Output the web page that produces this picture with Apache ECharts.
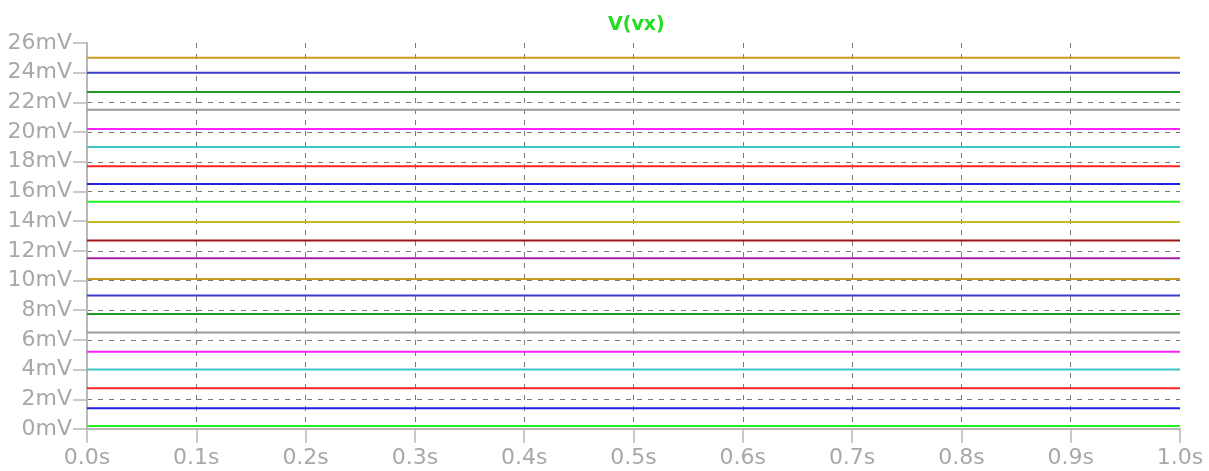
<!DOCTYPE html>
<html>
<head>
<meta charset="utf-8">
<script src="https://cdn.jsdelivr.net/npm/echarts@6/dist/echarts.min.js"></script>
<style>
html,body{margin:0;padding:0;background:#fff;}
#chart{width:1209px;height:471px;}
</style>
</head>
<body>
<div id="chart"></div>
<script>
// Trace levels in mV (bottom to top), constant over the 0..1 s window
const timeRange = [0, 1];
const levels = [0.2, 1.4, 2.75, 4.0, 5.2, 6.5, 7.75, 9.0, 10.1, 11.5, 12.7, 13.95,
                15.3, 16.5, 17.7, 19.0, 20.2, 21.5, 22.7, 24.0, 25.0];
const traceColors = ['#22ee22', '#2222e6', '#ff2222', '#3cc4c4', '#ff22ff', '#9a9a9a',
                     '#229922', '#3c3ccc', '#c89a1e', '#a020a0', '#a01414', '#c4bc1e'];
const yTicks = [0, 2, 4, 6, 8, 10, 12, 14, 16, 18, 20, 22, 24, 26];
const xTicks = [0, 0.1, 0.2, 0.3, 0.4, 0.5, 0.6, 0.7, 0.8, 0.9, 1.0];
const titleText = 'V(vx)';

const axisGray = '#b8b8b8';
const gridGray = '#7a7a7a';
const labelGray = '#a8a8a8';
const font = 'DejaVu Sans';

const series = levels.map((v, i) => ({
  type: 'line',
  name: 'trace' + (i + 1),
  data: timeRange.map(t => [t, v]),
  showSymbol: false,
  symbol: 'none',
  silent: true,
  lineStyle: { color: traceColors[i % traceColors.length], width: 2 },
  xAxisIndex: 0,
  yAxisIndex: 0,
  z: 5
}));

const chart = echarts.init(document.getElementById('chart'), null, { renderer: 'canvas' });
chart.setOption({
  animation: false,
  backgroundColor: '#ffffff',
  title: {
    text: titleText,
    left: 603,
    top: 11,
    textStyle: { color: '#22dd22', fontFamily: font, fontWeight: 'bold', fontSize: 19 }
  },
  grid: { left: 87, right: 29, top: 43, height: 386, containLabel: false },
  xAxis: [{
    type: 'value',
    min: xTicks[0],
    max: xTicks[xTicks.length - 1],
    interval: 0.1,
    position: 'bottom',
    axisLine: { show: false },
    axisTick: { show: true, length: 14, lineStyle: { color: axisGray, width: 1.5 } },
    axisLabel: {
      margin: 18,
      color: labelGray,
      fontFamily: font,
      fontSize: 22,
      formatter: v => v.toFixed(1) + 's'
    },
    splitLine: {
      show: true,
      showMinLine: false,
      showMaxLine: false,
      lineStyle: { color: gridGray, type: [5, 6], width: 1 }
    }
  }, {
    type: 'value',
    min: xTicks[0],
    max: xTicks[xTicks.length - 1],
    position: 'top',
    axisLine: { show: true, lineStyle: { color: axisGray, width: 2 } },
    axisTick: { show: false },
    axisLabel: { show: false },
    splitLine: { show: false }
  }],
  yAxis: [{
    type: 'value',
    min: yTicks[0],
    max: yTicks[yTicks.length - 1],
    interval: 2,
    position: 'left',
    axisLine: { show: true, lineStyle: { color: axisGray, width: 1.5 } },
    axisTick: { show: true, length: 14, lineStyle: { color: axisGray, width: 1.5 } },
    axisLabel: {
      margin: 15,
      color: labelGray,
      fontFamily: font,
      fontSize: 22,
      formatter: v => v + 'mV'
    },
    splitLine: {
      show: true,
      showMinLine: false,
      showMaxLine: false,
      lineStyle: { color: gridGray, type: [5, 6], width: 1 }
    }
  }, {
    type: 'value',
    min: yTicks[0],
    max: yTicks[yTicks.length - 1],
    position: 'right',
    axisLine: { show: true, lineStyle: { color: axisGray, width: 2 } },
    axisTick: { show: false },
    axisLabel: { show: false },
    splitLine: { show: false }
  }],
  series: series
});
</script>
</body>
</html>
